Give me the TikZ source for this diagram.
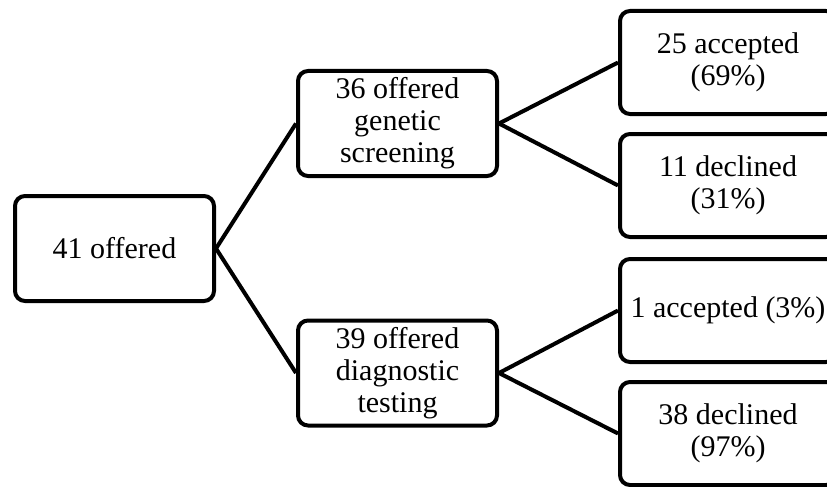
\documentclass[tikz,border=0pt]{standalone}
\usepackage{fontspec}
\setmainfont{Liberation Serif}
\begin{document}
\begin{tikzpicture}[x=1pt,y=-1pt,
  box/.style={draw, line width=4pt, rounded corners=10pt, inner sep=0pt, align=center,
    font=\fontsize{30}{32}\selectfont},
  midbox/.style={box, minimum width=199pt, minimum height=105pt},
  leafbox/.style={box, minimum width=216pt, minimum height=103pt},
  link/.style={line width=4pt}]
\useasboundingbox (0,0) rectangle (827,487);
\clip (0,0) rectangle (827,487);
\node[midbox] (root) at (114.5,248.5) {41 offered};
\node[midbox] (gen) at (397.5,123.5) {36 offered\\genetic\\screening};
\node[midbox] (diag) at (397.5,373) {39 offered\\diagnostic\\testing};
\node[leafbox] (acc1) at (728,62.5) {25 accepted\\(69\%)};
\node[leafbox] (dec1) at (728,185.5) {11 declined\\(31\%)};
\node[leafbox] (acc2) at (728,310.5) {1 accepted (3\%)};
\node[leafbox] (dec2) at (728,433.5) {38 declined\\(97\%)};
\draw[link] (root.east) -- (gen.west);
\draw[link] (root.east) -- (diag.west);
\draw[link] (gen.east) -- (acc1.west);
\draw[link] (gen.east) -- (dec1.west);
\draw[link] (diag.east) -- (acc2.west);
\draw[link] (diag.east) -- (dec2.west);
\end{tikzpicture}
\end{document}
